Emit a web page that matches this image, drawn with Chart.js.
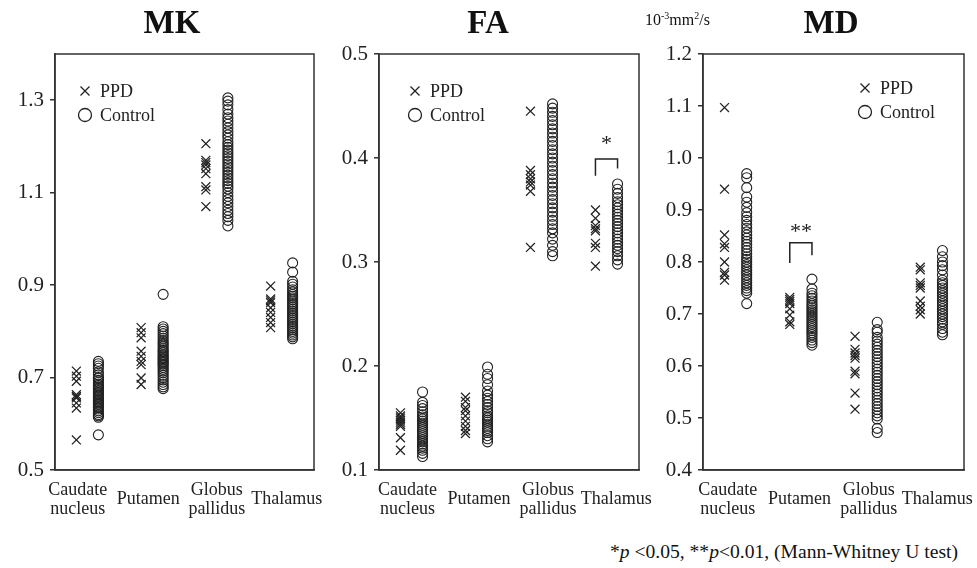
<!DOCTYPE html>
<html>
<head>
<meta charset="utf-8">
<script src="https://cdn.jsdelivr.net/npm/chart.js@4.4.1/dist/chart.umd.min.js"></script>
<style>
    body { margin: 0; background: #fff; width: 977px; height: 568px; overflow: hidden; position: relative; font-family: 'Liberation Serif', 'Times New Roman', serif; color: #111; }
    canvas { position: absolute; top: 0; }
    .title { position: absolute; top: 6px; width: 120px; text-align: center; font-size: 33px; font-weight: bold; line-height: 1; }
    .unit { position: absolute; left: 645px; top: 12px; font-size: 16px; line-height: 1; }
    .unit sup { font-size: 10px; vertical-align: 6px; line-height: 0; }
    .note { position: absolute; right: 19px; top: 542px; font-size: 19.6px; line-height: 1; white-space: nowrap; }
</style>
</head>
<body>
<canvas id="mk" width="335" height="520" style="left:0px"></canvas>
<canvas id="fa" width="335" height="520" style="left:325px"></canvas>
<canvas id="md" width="332" height="520" style="left:645px"></canvas>
<div class="title" style="left:112px">MK</div>
<div class="title" style="left:428px">FA</div>
<div class="title" style="left:771px">MD</div>
<div class="unit">10<sup>-3</sup>mm<sup>2</sup>/s</div>
<div class="note">*<i>p</i> &lt;0.05, **<i>p</i>&lt;0.01, (Mann-Whitney U test)</div>
<script>
// 領域名（x軸カテゴリ）
const categories = [['Caudate', 'nucleus'], 'Putamen', ['Globus', 'pallidus'], 'Thalamus'];
const seriesNames = ['PPD', 'Control'];

// y軸目盛
const mkTicks = [0.5, 0.7, 0.9, 1.1, 1.3];
const faTicks = [0.1, 0.2, 0.3, 0.4, 0.5];
const mdTicks = [0.4, 0.5, 0.6, 0.7, 0.8, 0.9, 1.0, 1.1, 1.2];

// MK（カテゴリ順: Caudate, Putamen, Globus, Thalamus）
const mkPPD = [
    [0.714, 0.703, 0.692, 0.663, 0.659, 0.656, 0.645, 0.634, 0.565],
    [0.808, 0.797, 0.786, 0.757, 0.746, 0.735, 0.728, 0.699, 0.685],
    [1.206, 1.17, 1.165, 1.16, 1.152, 1.141, 1.113, 1.106, 1.07],
    [0.898, 0.87, 0.866, 0.862, 0.851, 0.841, 0.83, 0.819, 0.808]
];
const mkControl = [
    [0.735, 0.73, 0.725, 0.72, 0.712, 0.706, 0.70, 0.698, 0.694, 0.69, 0.686, 0.683, 0.68, 0.677, 0.674, 0.671, 0.668, 0.665, 0.662, 0.66, 0.657, 0.654, 0.651, 0.648, 0.645, 0.642, 0.638, 0.635, 0.632, 0.628, 0.624, 0.62, 0.617, 0.614, 0.576],
    [0.88, 0.81, 0.805, 0.80, 0.795, 0.79, 0.785, 0.78, 0.776, 0.772, 0.768, 0.764, 0.76, 0.757, 0.754, 0.75, 0.747, 0.744, 0.741, 0.738, 0.735, 0.732, 0.729, 0.726, 0.722, 0.718, 0.714, 0.71, 0.705, 0.70, 0.695, 0.69, 0.685, 0.68, 0.676],
    [1.305, 1.298, 1.29, 1.28, 1.27, 1.262, 1.255, 1.248, 1.24, 1.232, 1.225, 1.218, 1.21, 1.204, 1.198, 1.192, 1.186, 1.18, 1.174, 1.168, 1.162, 1.156, 1.15, 1.144, 1.138, 1.132, 1.126, 1.12, 1.114, 1.108, 1.10, 1.092, 1.085, 1.078, 1.07, 1.062, 1.055, 1.048, 1.04, 1.028],
    [0.948, 0.928, 0.908, 0.902, 0.896, 0.89, 0.885, 0.88, 0.876, 0.872, 0.868, 0.864, 0.86, 0.856, 0.852, 0.848, 0.844, 0.84, 0.836, 0.832, 0.828, 0.824, 0.82, 0.816, 0.812, 0.808, 0.804, 0.80, 0.796, 0.792, 0.788, 0.784]
];

// FA
const faPPD = [
    [0.155, 0.152, 0.15, 0.148, 0.146, 0.144, 0.142, 0.131, 0.119],
    [0.17, 0.166, 0.16, 0.157, 0.152, 0.147, 0.142, 0.138, 0.135],
    [0.445, 0.388, 0.384, 0.38, 0.377, 0.374, 0.368, 0.314],
    [0.35, 0.342, 0.335, 0.332, 0.33, 0.318, 0.314, 0.296]
];
const faControl = [
    [0.175, 0.165, 0.162, 0.159, 0.156, 0.153, 0.151, 0.149, 0.147, 0.145, 0.143, 0.141, 0.139, 0.137, 0.135, 0.133, 0.131, 0.129, 0.127, 0.125, 0.123, 0.121, 0.119, 0.116, 0.113],
    [0.199, 0.192, 0.188, 0.182, 0.176, 0.172, 0.169, 0.166, 0.163, 0.16, 0.157, 0.155, 0.152, 0.15, 0.148, 0.146, 0.144, 0.142, 0.14, 0.138, 0.136, 0.133, 0.13, 0.127],
    [0.452, 0.448, 0.444, 0.44, 0.436, 0.432, 0.428, 0.424, 0.42, 0.416, 0.412, 0.408, 0.404, 0.40, 0.396, 0.392, 0.388, 0.384, 0.38, 0.376, 0.372, 0.368, 0.364, 0.36, 0.356, 0.352, 0.348, 0.344, 0.34, 0.336, 0.332, 0.328, 0.322, 0.316, 0.31, 0.306],
    [0.375, 0.37, 0.366, 0.362, 0.358, 0.355, 0.352, 0.349, 0.346, 0.343, 0.34, 0.337, 0.334, 0.331, 0.328, 0.325, 0.322, 0.319, 0.316, 0.313, 0.31, 0.306, 0.302, 0.298]
];

// MD (10^-3 mm2/s)
const mdPPD = [
    [1.097, 0.94, 0.852, 0.835, 0.828, 0.80, 0.78, 0.775, 0.765],
    [0.732, 0.728, 0.724, 0.72, 0.71, 0.698, 0.685, 0.68],
    [0.657, 0.632, 0.625, 0.62, 0.615, 0.59, 0.585, 0.548, 0.517],
    [0.79, 0.785, 0.76, 0.755, 0.75, 0.725, 0.715, 0.708, 0.70]
];
const mdControl = [
    [0.97, 0.962, 0.943, 0.925, 0.915, 0.905, 0.895, 0.887, 0.88, 0.872, 0.865, 0.858, 0.852, 0.846, 0.84, 0.834, 0.828, 0.822, 0.816, 0.81, 0.805, 0.80, 0.795, 0.79, 0.785, 0.78, 0.775, 0.77, 0.765, 0.76, 0.755, 0.75, 0.745, 0.74, 0.72],
    [0.767, 0.748, 0.74, 0.735, 0.73, 0.725, 0.72, 0.716, 0.712, 0.708, 0.704, 0.70, 0.696, 0.692, 0.688, 0.684, 0.68, 0.676, 0.672, 0.668, 0.664, 0.66, 0.655, 0.65, 0.645, 0.64],
    [0.684, 0.67, 0.665, 0.655, 0.648, 0.642, 0.636, 0.63, 0.624, 0.618, 0.612, 0.606, 0.60, 0.594, 0.588, 0.582, 0.576, 0.57, 0.564, 0.558, 0.552, 0.546, 0.54, 0.534, 0.528, 0.522, 0.516, 0.51, 0.504, 0.498, 0.48, 0.472],
    [0.822, 0.81, 0.80, 0.793, 0.785, 0.775, 0.765, 0.76, 0.755, 0.75, 0.745, 0.74, 0.735, 0.73, 0.725, 0.72, 0.715, 0.71, 0.705, 0.70, 0.695, 0.69, 0.685, 0.68, 0.672, 0.665, 0.66]
];

// 有意差ブラケット（x: カテゴリ位置, y: 値）
const faBracketX = [2.83, 2.83, 3.17, 3.17];
const faBracketY = [0.383, 0.399, 0.399, 0.390];
const mdBracketX = [0.83, 0.83, 1.17, 1.17];
const mdBracketY = [0.798, 0.837, 0.837, 0.813];

const INK = '#222';
const FONT = "'Liberation Serif', 'Times New Roman', serif";
const OFFSET = 0.17; // カテゴリ内の PPD / Control の左右ずらし

// カテゴリ別配列 → 散布図の点
function toPoints(groups, offset) {
    const pts = [];
    groups.forEach((vals, i) => vals.forEach(v => pts.push({ x: i + offset, y: v })));
    return pts;
}

function bracketPoints(xs, ys) {
    return xs.map((x, i) => ({ x: x, y: ys[i] }));
}

// 枠・凡例・アスタリスク描画
const panelDecor = {
    id: 'panelDecor',
    afterDraw(chart, args, opts) {
        const { ctx, chartArea: a } = chart;
        ctx.save();
        ctx.strokeStyle = '#333';
        ctx.lineWidth = 1.5;
        ctx.strokeRect(a.left, a.top, a.right - a.left, a.bottom - a.top);

        // 凡例
        const lx = a.left + opts.legendX;
        const ly = a.top + opts.legendY;
        ctx.strokeStyle = INK;
        ctx.lineWidth = 1.3;
        const c = 4.5;
        ctx.beginPath();
        ctx.moveTo(lx - c, ly - c); ctx.lineTo(lx + c, ly + c);
        ctx.moveTo(lx - c, ly + c); ctx.lineTo(lx + c, ly - c);
        ctx.stroke();
        ctx.beginPath();
        ctx.arc(lx, ly + 24, 6.5, 0, Math.PI * 2);
        ctx.stroke();
        ctx.fillStyle = INK;
        ctx.font = '18px ' + FONT;
        ctx.textBaseline = 'middle';
        ctx.textAlign = 'left';
        ctx.fillText(seriesNames[0], lx + 15, ly + 1);
        ctx.fillText(seriesNames[1], lx + 15, ly + 25);

        // 有意差記号
        (opts.stars || []).forEach(s => {
            ctx.font = '22px ' + FONT;
            ctx.textAlign = 'center';
            ctx.fillText(s.text, chart.scales.x.getPixelForValue(s.x), chart.scales.y.getPixelForValue(s.y) + 4);
        });
        ctx.restore();
    }
};

function makePanel(id, p) {
    const datasets = [
        { label: seriesNames[0], data: toPoints(p.ppd, -OFFSET), pointStyle: 'crossRot', pointRadius: 6.3, borderWidth: 1.25, borderColor: INK },
        { label: seriesNames[1], data: toPoints(p.ctrl, OFFSET), pointStyle: 'circle', pointRadius: 5, borderWidth: 1.1, borderColor: INK, backgroundColor: 'rgba(0,0,0,0)' }
    ];
    if (p.bracket) {
        datasets.push({ label: 'sig', data: p.bracket, showLine: true, pointRadius: 0, borderColor: INK, borderWidth: 1.5 });
    }
    new Chart(document.getElementById(id), {
        type: 'scatter',
        data: { datasets: datasets },
        options: {
            responsive: false,
            animation: false,
            events: [],
            layout: { autoPadding: false, padding: { top: 54, right: p.padRight, left: 0, bottom: 0 } },
            plugins: {
                legend: { display: false },
                tooltip: { enabled: false },
                panelDecor: { legendX: p.legendX, legendY: p.legendY, stars: p.stars }
            },
            scales: {
                x: {
                    type: 'linear',
                    min: -0.5,
                    max: 3.5,
                    afterBuildTicks: s => { s.ticks = p.labelPos.map(v => ({ value: v })); },
                    // ラベルのはみ出しで描画領域が縮まないようにする
                    afterFit: s => { s.height = 50; s.paddingLeft = 0; s.paddingRight = 0; },
                    grid: { display: false },
                    border: { display: true, color: '#333', width: 1.5 },
                    ticks: {
                        autoSkip: false,
                        maxRotation: 0,
                        crossAlign: 'center',
                        padding: 12,
                        color: INK,
                        font: { family: FONT, size: 18, lineHeight: 1.05 },
                        callback: (v, i) => categories[i]
                    }
                },
                y: {
                    min: p.min,
                    max: p.max,
                    afterBuildTicks: s => { s.ticks = p.ticks.map(v => ({ value: v })); },
                    afterFit: s => { s.width = p.yWidth; },
                    grid: { display: true, drawOnChartArea: false, drawTicks: true, tickLength: 5, color: '#333', lineWidth: 1.5 },
                    border: { display: true, color: '#333', width: 1.5 },
                    ticks: {
                        padding: 6,
                        color: INK,
                        font: { family: FONT, size: 21 },
                        callback: v => v.toFixed(1)
                    }
                }
            }
        },
        plugins: [panelDecor]
    });
}

makePanel('mk', {
    ppd: mkPPD, ctrl: mkControl, ticks: mkTicks, min: 0.5, max: 1.4,
    yWidth: 55, padRight: 21, labelPos: [-0.15, 0.94, 2.0, 3.08],
    legendX: 30, legendY: 37
});
makePanel('fa', {
    ppd: faPPD, ctrl: faControl, ticks: faTicks, min: 0.1, max: 0.5,
    yWidth: 54, padRight: 21, labelPos: [-0.06, 1.04, 2.1, 3.15],
    legendX: 36, legendY: 37,
    bracket: bracketPoints(faBracketX, faBracketY),
    stars: [{ x: 3.0, y: 0.417, text: '*' }]
});
makePanel('md', {
    ppd: mdPPD, ctrl: mdControl, ticks: mdTicks, min: 0.4, max: 1.2,
    yWidth: 58, padRight: 13, labelPos: [-0.12, 0.98, 2.04, 3.09],
    legendX: 162, legendY: 34,
    bracket: bracketPoints(mdBracketX, mdBracketY),
    stars: [{ x: 1.0, y: 0.865, text: '**' }]
});
</script>
</body>
</html>
